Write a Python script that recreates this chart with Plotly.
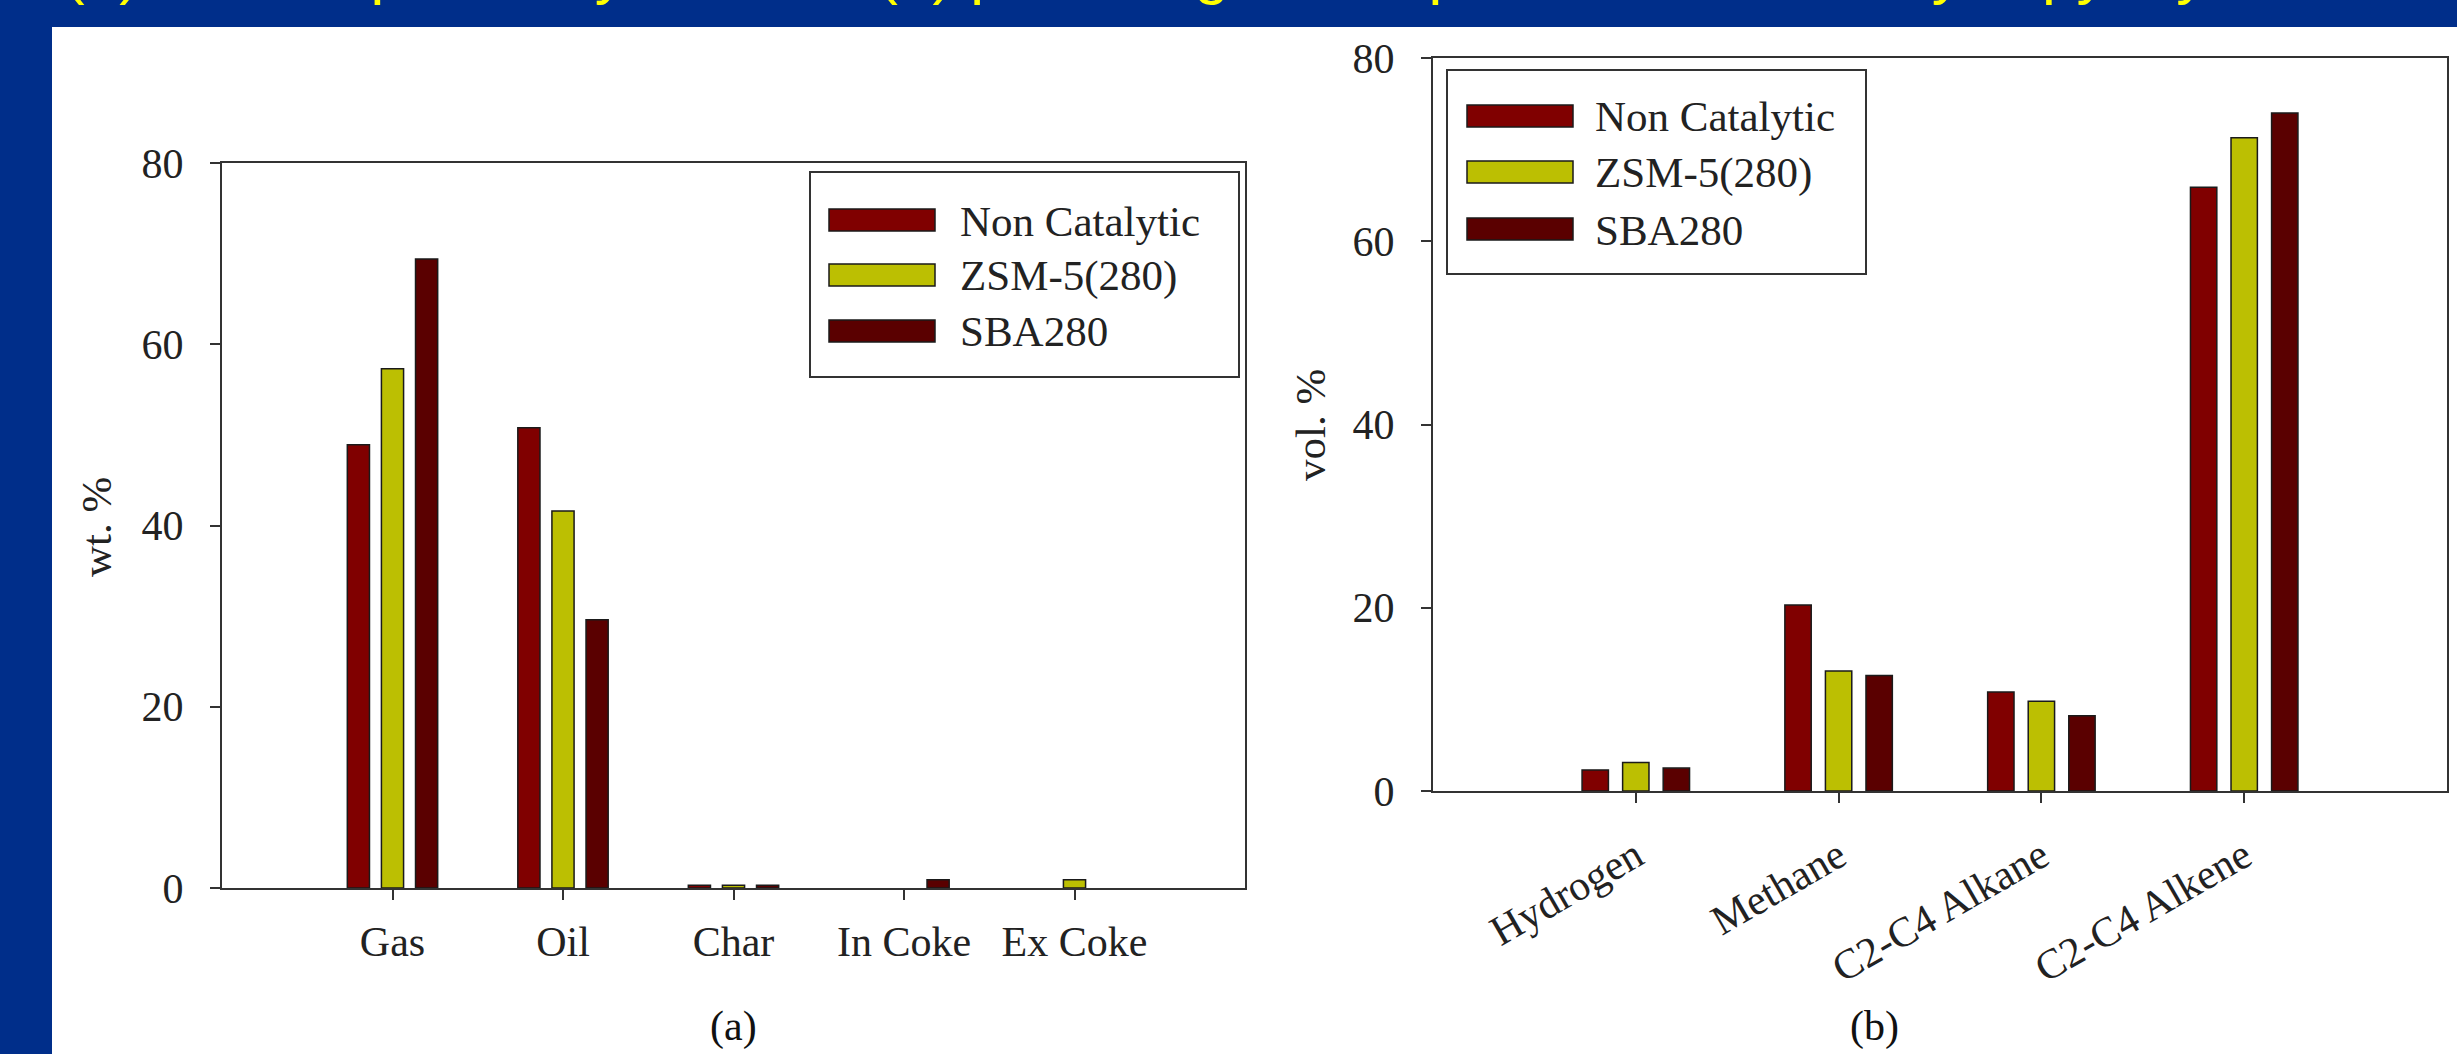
import plotly.graph_objects as go

W, H = 2457, 1054

# ---- data -------------------------------------------------------------
products = ["Gas", "Oil", "Char", "In Coke", "Ex Coke"]
gases = ["Hydrogen", "Methane", "C2-C4 Alkane", "C2-C4 Alkene"]
series_names = ["Non Catalytic", "ZSM-5(280)", "SBA280"]

# (a) product yield, wt. %
yield_noncat = [48.9, 50.8, 0.3, None, None]
yield_zsm5 = [57.3, 41.6, 0.3, None, 0.9]
yield_sba = [69.4, 29.6, 0.3, 0.9, None]

# (b) gas composition, vol. %
gas_noncat = [2.3, 20.3, 10.8, 65.9]
gas_zsm5 = [3.1, 13.1, 9.8, 71.3]
gas_sba = [2.5, 12.6, 8.2, 74.0]

y_ticks = [0, 20, 40, 60, 80]

# ---- styling ----------------------------------------------------------
colors = ["#800000", "#BCBF02", "#5A0000"]
outline = "#1a1a1a"
axis_col = "#333333"
serif = "Liberation Serif, Times New Roman, serif"
sans = "Liberation Sans, Arial, sans-serif"
blue = "#002E8A"


def fx(p):
    return p / W


def fy(p):
    return 1 - p / H


fig = go.Figure()

for name, vals, col in zip(series_names, [yield_noncat, yield_zsm5, yield_sba], colors):
    fig.add_trace(go.Bar(x=products, y=vals, name=name, xaxis="x", yaxis="y",
                         marker=dict(color=col, line=dict(color=outline, width=1.5)),
                         showlegend=False))

for name, vals, col in zip(series_names, [gas_noncat, gas_zsm5, gas_sba], colors):
    fig.add_trace(go.Bar(x=gases, y=vals, name=name, xaxis="x2", yaxis="y2",
                         marker=dict(color=col, line=dict(color=outline, width=1.5)),
                         showlegend=False))

axis_common = dict(showline=True, mirror=True, linecolor=axis_col, linewidth=2,
                   ticks="outside", ticklen=10, tickwidth=2, tickcolor=axis_col,
                   tickfont=dict(family=serif, size=42, color="#222222"),
                   showgrid=False, zeroline=False)

shapes = [
    # white sheet on the blue slide
    dict(type="rect", xref="paper", yref="paper", x0=fx(52), x1=1, y0=0, y1=fy(27),
         fillcolor="white", line=dict(width=0), layer="below"),
]
annotations = []


def add_legend(box, sw_x, rows, text_x):
    x0, x1, y0, y1 = box
    shapes.append(dict(type="rect", xref="paper", yref="paper",
                       x0=fx(x0), x1=fx(x1), y0=fy(y1), y1=fy(y0),
                       fillcolor="white", line=dict(color=axis_col, width=2)))
    for name, col, cy in zip(series_names, colors, rows):
        shapes.append(dict(type="rect", xref="paper", yref="paper",
                           x0=fx(sw_x[0]), x1=fx(sw_x[1]), y0=fy(cy + 11), y1=fy(cy - 11),
                           fillcolor=col, line=dict(color=outline, width=1.5)))
        annotations.append(dict(text=name, xref="paper", yref="paper",
                                x=fx(text_x), y=fy(cy + 1), xanchor="left", yanchor="middle",
                                showarrow=False,
                                font=dict(family=serif, size=43, color="#222222")))


add_legend((810, 1239, 172, 377), (829, 935), (220, 275, 331), 958)
add_legend((1447, 1866, 70, 274), (1467, 1573), (116, 172, 229), 1593)

# axis titles
annotations.append(dict(text="wt. %", xref="paper", yref="paper", x=fx(96), y=fy(527),
                        textangle=-90, showarrow=False, xanchor="center", yanchor="middle",
                        font=dict(family=serif, size=43, color="#222222")))
annotations.append(dict(text="vol. %", xref="paper", yref="paper", x=fx(1310), y=fy(425),
                        textangle=-90, showarrow=False, xanchor="center", yanchor="middle",
                        font=dict(family=serif, size=43, color="#222222")))

# panel captions
annotations.append(dict(text="(a)", xref="paper", yref="paper", x=fx(733), y=fy(1026),
                        showarrow=False, xanchor="center", yanchor="middle",
                        font=dict(family=serif, size=42, color="#111111")))
annotations.append(dict(text="(b)", xref="paper", yref="paper", x=fx(1875), y=fy(1026),
                        showarrow=False, xanchor="center", yanchor="middle",
                        font=dict(family=serif, size=42, color="#111111")))

# slide heading, running off the top edge
annotations.append(dict(text="(a) Overall product yield, and (b) product gas composition from catalytic pyrolysis",
                        xref="paper", yref="paper", x=fx(62), y=fy(7),
                        xanchor="left", yanchor="bottom", showarrow=False,
                        font=dict(family=sans, size=62, color="#FFFF00")))

fig.update_layout(
    width=W, height=H, autosize=False,
    margin=dict(l=0, r=0, t=0, b=0, autoexpand=False),
    paper_bgcolor=blue, plot_bgcolor="white",
    barmode="group", bargap=0.4, bargroupgap=0.35,
    xaxis=dict(domain=[fx(222), fx(1245)], anchor="y", type="category",
               range=[-1, 5], ticklabelstandoff=6, **axis_common),
    yaxis=dict(domain=[fy(888), fy(163)], anchor="x", range=[0, 80],
               tickvals=y_ticks, ticklabelstandoff=18, **axis_common),
    xaxis2=dict(domain=[fx(1433), fx(2447)], anchor="y2", type="category",
                range=[-1, 4], tickangle=-30, ticklabelstandoff=12, **axis_common),
    yaxis2=dict(domain=[fy(791), fy(58)], anchor="x2", range=[0, 80],
                tickvals=y_ticks, ticklabelstandoff=18, **axis_common),
    shapes=shapes,
    annotations=annotations,
)

fig.write_html("out.html")
